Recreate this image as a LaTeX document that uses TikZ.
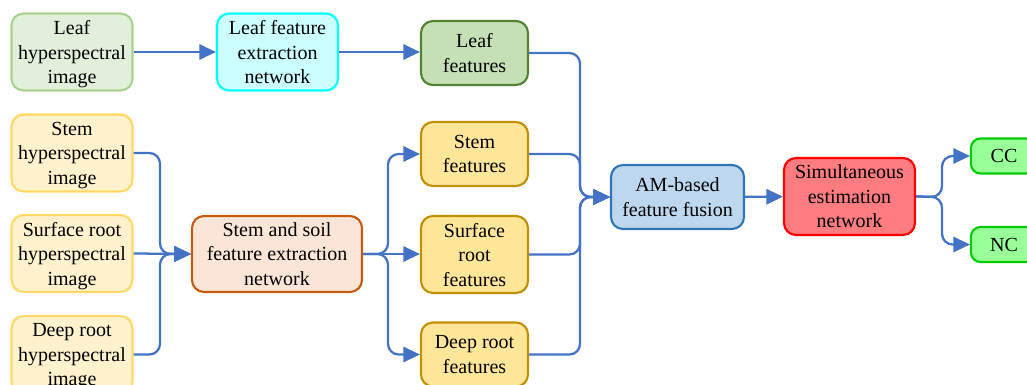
\documentclass[tikz,border=0pt]{standalone}
\usepackage{fontspec}
\setmainfont{Liberation Serif}
\usetikzlibrary{arrows.meta}

\definecolor{flow}{HTML}{4472C4}
\definecolor{leafin}{HTML}{E2EFDA}   \definecolor{leafinB}{HTML}{A9D18E}
\definecolor{leafnet}{HTML}{CCFFFF}  \definecolor{leafnetB}{HTML}{00FFFF}
\definecolor{leaffeat}{HTML}{C5E0B4} \definecolor{leaffeatB}{HTML}{548235}
\definecolor{soilin}{HTML}{FFF2CC}   \definecolor{soilinB}{HTML}{FFD966}
\definecolor{soilnet}{HTML}{FBE5D6}  \definecolor{soilnetB}{HTML}{C55A11}
\definecolor{soilfeat}{HTML}{FFE699} \definecolor{soilfeatB}{HTML}{BF9000}
\definecolor{fuse}{HTML}{BDD7EE}     \definecolor{fuseB}{HTML}{2E75B6}
\definecolor{est}{HTML}{FF7C80}      \definecolor{estB}{HTML}{FF0000}
\definecolor{outc}{HTML}{99FF99}     \definecolor{outcB}{HTML}{00CC00}

\tikzset{
  box/.style={draw, line width=1.6pt, rounded corners=9pt, align=center,
    inner sep=0pt, text depth=0pt, font=\fontsize{15}{18.4}\selectfont},
  inbox/.style={box, minimum width=90.75pt, minimum height=57.75pt},
  featbox/.style={box, minimum width=80.25pt, minimum height=48pt},
  link/.style={draw=flow, line width=1.7pt, rounded corners=8pt,
    -{Triangle[length=12.5pt,width=11.5pt]}},
}

\begin{document}
\begin{tikzpicture}[x=0.75pt, y=-0.75pt]
\useasboundingbox (0,0) rectangle (1027,385);

% inputs
\node[inbox, fill=leafin, draw=leafinB] (lhsi) at (72,52) {Leaf\\hyperspectral\\image};
\node[inbox, fill=soilin, draw=soilinB] (shsi) at (72,153) {Stem\\hyperspectral\\image};
\node[inbox, fill=soilin, draw=soilinB] (rhsi) at (72,253.5) {Surface root\\hyperspectral\\image};
\node[inbox, fill=soilin, draw=soilinB] (dhsi) at (72,354.5) {Deep root\\hyperspectral\\image};

% extraction networks
\node[inbox, fill=leafnet, draw=leafnetB] (lfen) at (277.5,52) {Leaf feature\\extraction\\network};
\node[box, fill=soilnet, draw=soilnetB, minimum width=127.5pt, minimum height=57pt]
  (ssfen) at (277,254) {Stem and soil\\feature extraction\\network};

% features
\node[featbox, fill=leaffeat, draw=leaffeatB] (lfeat) at (474.5,53) {Leaf\\features};
\node[featbox, fill=soilfeat, draw=soilfeatB] (sfeat) at (474.5,154) {Stem\\features};
\node[featbox, fill=soilfeat, draw=soilfeatB, minimum height=57.75pt] (rfeat) at (474.5,254.5) {Surface\\root\\features};
\node[featbox, fill=soilfeat, draw=soilfeatB] (dfeat) at (474.5,354.5) {Deep root\\features};

% fusion and estimation
\node[box, fill=fuse, draw=fuseB, minimum width=99.75pt, minimum height=48pt] (amf) at (677.5,197) {AM-based\\feature fusion};
\node[box, fill=est, draw=estB, minimum width=98.25pt, minimum height=57.75pt] (sim) at (849.5,196.5) {Simultaneous\\estimation\\network};

% outputs
\node[box, fill=outc, draw=outcB, minimum width=49.5pt, minimum height=26.25pt, rounded corners=7pt] (cc) at (1004,156) {CC};
\node[box, fill=outc, draw=outcB, minimum width=49.5pt, minimum height=26.25pt, rounded corners=7pt] (nc) at (1004,244.5) {NC};

% junction points
\coordinate (j1) at (160,254);
\coordinate (j2) at (388,254);
\coordinate (j3) at (580,197);
\coordinate (j4) at (942,197);

% leaf branch
\draw[link] (lhsi) -- (lfen);
\draw[link] (lfen) -- (lfeat.west |- lfen.east);

% stem and soil inputs
\draw[link] (shsi.east) -| (j1) -- (ssfen.west);
\draw[link] (rhsi.east) -- (ssfen.west);
\draw[link] (dhsi.east) -| (j1) -- (ssfen.west);

% stem and soil outputs
\draw[link] (ssfen.east) -- (j2) |- (sfeat.west);
\draw[link] (ssfen.east) -- (rfeat.west |- ssfen.east);
\draw[link] (ssfen.east) -- (j2) |- (dfeat.west);

% fusion inputs
\draw[link] (lfeat.east) -| (j3) -- (amf.west);
\draw[link] (sfeat.east) -| (j3) -- (amf.west);
\draw[link] (rfeat.east) -| (j3) -- (amf.west);
\draw[link] (dfeat.east) -| (j3) -- (amf.west);

% estimation
\draw[link] (amf) -- (sim);
\draw[link] (sim.east) -- (j4) |- (cc.west);
\draw[link] (sim.east) -- (j4) |- (nc.west);
\end{tikzpicture}
\end{document}
